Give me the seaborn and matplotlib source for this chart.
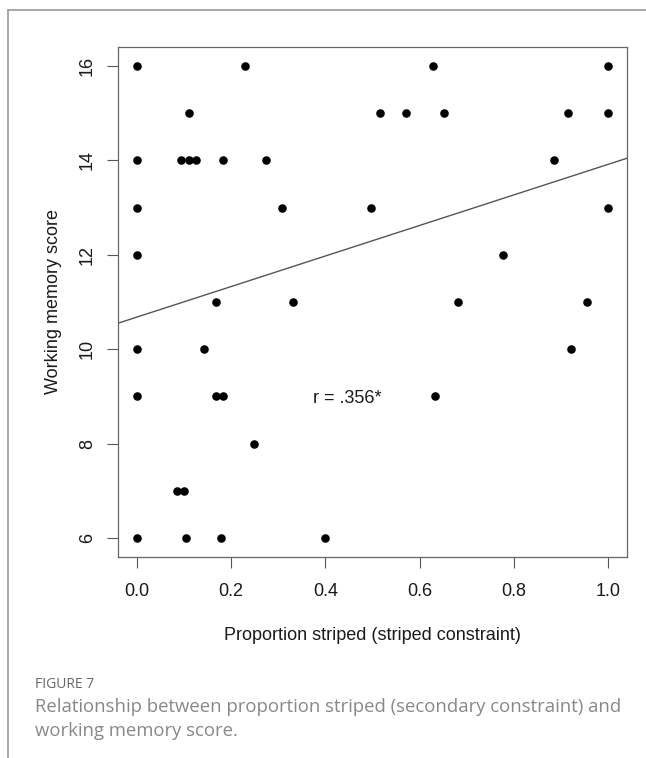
import numpy as np
import pandas as pd
import matplotlib
matplotlib.use('Agg')
import matplotlib.pyplot as plt
import seaborn as sns
from matplotlib.lines import Line2D

sns.set_style('white')
plt.rcParams['font.family'] = ['Liberation Sans', 'DejaVu Sans']

# proportion striped (x) and working memory score (y)
prop_striped = [0.0, 0.23, 0.628, 1.0,
                0.11, 0.515, 0.57, 0.651, 0.914, 1.0,
                0.0, 0.093, 0.11, 0.125, 0.182, 0.273, 0.886,
                0.0, 0.307, 0.497, 1.0,
                0.0, 0.776,
                0.167, 0.332, 0.681, 0.956,
                0.0, 0.142, 0.922,
                0.0, 0.167, 0.183, 0.633,
                0.249,
                0.086, 0.10,
                0.0, 0.105, 0.178, 0.40]
wm_score = [16, 16, 16, 16,
            15, 15, 15, 15, 15, 15,
            14, 14, 14, 14, 14, 14, 14,
            13, 13, 13, 13,
            12, 12,
            11, 11, 11, 11,
            10, 10, 10,
            9, 9, 9, 9,
            8,
            7, 7,
            6, 6, 6, 6]
# fitted line as drawn in the original
fit_intercept = 10.68
fit_slope = 3.235
x_ticks = [0.0, 0.2, 0.4, 0.6, 0.8, 1.0]
y_ticks = [6, 8, 10, 12, 14, 16]
r_label = 'r = .356*'

df = pd.DataFrame({'prop': prop_striped, 'score': wm_score})

fig = plt.figure(figsize=(6.46, 7.58), dpi=100)
ax = fig.add_axes([0.1827, 0.2652, 0.7879, 0.6728])
ax.set_xlim(-0.04, 1.04)
ax.set_ylim(5.6, 16.4)

sns.scatterplot(data=df, x='prop', y='score', ax=ax, s=38, color='black',
                linewidth=0, zorder=3)
ax.axline((0, fit_intercept), slope=fit_slope, color='#555555', linewidth=1.0)

ax.text(0.447, 8.95, r_label, ha='center', va='center', fontsize=13, color='#1a1a1a')

ax.set_xticks(x_ticks)
ax.set_xticklabels([f'{t:.1f}' for t in x_ticks])
ax.set_yticks(y_ticks)
ax.set_yticklabels([str(t) for t in y_ticks], rotation=90, va='center')
ax.tick_params(axis='both', direction='out', length=8, width=0.8, color='#555555',
               labelsize=13, labelcolor='#1a1a1a', left=True, bottom=True)
ax.tick_params(axis='x', pad=11)
ax.tick_params(axis='y', pad=8)
for sp in ax.spines.values():
    sp.set_visible(True)
    sp.set_color('#666666')
    sp.set_linewidth(0.9)

ax.set_xlabel('Proportion striped (striped constraint)', fontsize=13, color='#1a1a1a', labelpad=19)
ax.set_ylabel('Working memory score', fontsize=13, color='#1a1a1a', labelpad=12)

# outer page frame
fig.add_artist(Line2D([8 / 646, 1.0], [1 - 10 / 758, 1 - 10 / 758], color='#999999', lw=1.2))
fig.add_artist(Line2D([8 / 646, 8 / 646], [0.0, 1 - 10 / 758], color='#999999', lw=1.2))

# caption
fig.text(35 / 646, 1 - 684 / 758, 'FIGURE 7', fontsize=10, color='#666666',
         family=['Open Sans', 'DejaVu Sans'], va='center')
fig.text(35 / 646, 1 - 719 / 758,
         'Relationship between proportion striped (secondary constraint) and\nworking memory score.',
         fontsize=13.3, color='#888888', family=['Open Sans', 'DejaVu Sans'],
         va='center', linespacing=1.45)

fig.savefig('out.png', dpi=100)
